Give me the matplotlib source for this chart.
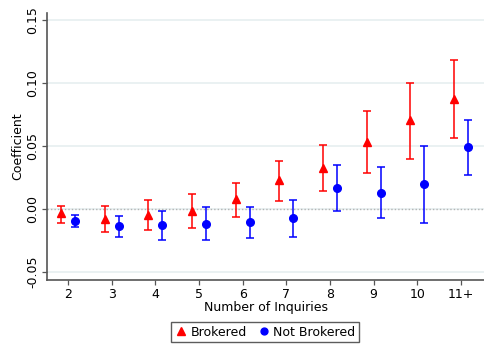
import numpy as np
import matplotlib
matplotlib.use("Agg")
import matplotlib.pyplot as plt

# Coefficient estimates by number of inquiries, with 95% confidence bounds
categories = ["2", "3", "4", "5", "6", "7", "8", "9", "10", "11+"]

brokered_coef = [-0.0032, -0.0079, -0.0045, -0.0013, 0.0077, 0.0228, 0.0328, 0.0534, 0.0704, 0.0873]
brokered_hi = [0.0024, 0.0021, 0.0069, 0.0117, 0.0206, 0.0383, 0.0511, 0.0776, 0.1003, 0.1183]
brokered_lo = [-0.0109, -0.0183, -0.0167, -0.0153, -0.0061, 0.0066, 0.0141, 0.0283, 0.0397, 0.0561]

not_brokered_coef = [-0.0093, -0.0135, -0.0127, -0.0117, -0.0106, -0.0074, 0.0164, 0.0127, 0.0196, 0.0492]
not_brokered_hi = [-0.0045, -0.0053, -0.0016, 0.0013, 0.0013, 0.0074, 0.0347, 0.0330, 0.0503, 0.0709]
not_brokered_lo = [-0.0143, -0.0222, -0.0244, -0.0246, -0.0230, -0.0222, -0.0018, -0.0074, -0.0111, 0.0270]

yticks = [-0.05, 0.00, 0.05, 0.10, 0.15]
ytick_labels = ["-0.05", "0.00", "0.05", "0.10", "0.15"]

fig = plt.figure(figsize=(4.84, 3.44), dpi=100)
ax = fig.add_axes([47 / 484, 64 / 344, 437 / 484, 267 / 344])

x = np.arange(2, 2 + len(categories))
off = 0.16

def err(coef, lo, hi):
    c, l, h = map(np.asarray, (coef, lo, hi))
    return np.vstack([c - l, h - c])

for yv in yticks:
    ax.axhline(yv, color="#e8f0f1", lw=1.3, zorder=0)
ax.axhline(0, color="#b4b4b4", lw=1.0, ls=(0, (1, 1.5)), zorder=1)

ax.errorbar(x - off, brokered_coef, yerr=err(brokered_coef, brokered_lo, brokered_hi),
            fmt="^", color="red", ecolor="red", ms=6, capsize=3, elinewidth=1.1,
            capthick=1.1, label="Brokered", zorder=3)
ax.errorbar(x + off, not_brokered_coef, yerr=err(not_brokered_coef, not_brokered_lo, not_brokered_hi),
            fmt="o", color="blue", ecolor="blue", ms=5.5, capsize=3, elinewidth=1.1,
            capthick=1.1, label="Not Brokered", zorder=3)

ax.set_xlim(1.52, 11.53)
ax.set_ylim(-0.0564, 0.1556)
ax.set_xticks(x)
ax.set_xticklabels(categories, fontsize=9)
ax.set_yticks(yticks)
ax.set_yticklabels(ytick_labels, fontsize=9, rotation=90, va="center")

for s in ("top", "right"):
    ax.spines[s].set_visible(False)
for s in ("left", "bottom"):
    ax.spines[s].set_color("#555555")
    ax.spines[s].set_linewidth(1.2)
ax.tick_params(direction="out", length=3.5, width=0.9, color="#555555", pad=2)

ax.set_xlabel("Number of Inquiries", fontsize=9, labelpad=0)
ax.set_ylabel("Coefficient", fontsize=9, labelpad=1.5)

handles, labels = ax.get_legend_handles_labels()
handles = [h[0] for h in handles]
leg = fig.legend(handles, labels, loc="center", bbox_to_anchor=(265 / 484, 12 / 344),
                 ncol=2, fontsize=9, frameon=True, fancybox=False, edgecolor="#333333",
                 handletextpad=0.2, columnspacing=0.8, borderpad=0.3, handlelength=1.1,
                 markerscale=0.9)
leg.get_frame().set_linewidth(1.0)

fig.savefig("out.png", dpi=100)
